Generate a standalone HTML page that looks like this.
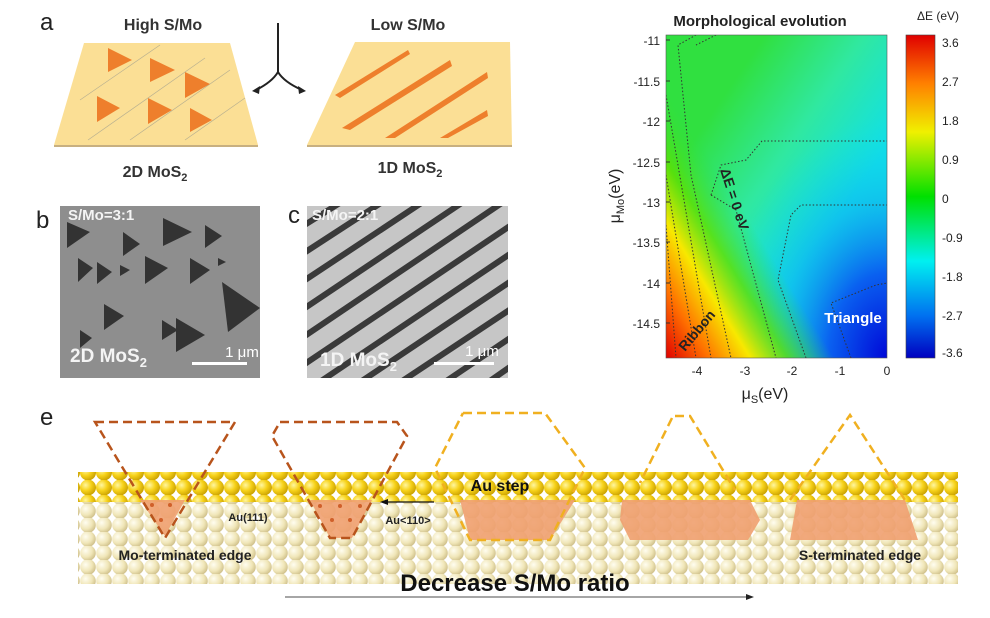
<!DOCTYPE html>
<html><head><meta charset="utf-8"><style>
body{margin:0;background:#fff;width:990px;height:618px;overflow:hidden;font-family:"Liberation Sans",sans-serif}
svg{position:absolute;left:0;top:0}
</style></head><body>
<svg width="990" height="618" viewBox="0 0 990 618" font-family="Liberation Sans, sans-serif">
<defs>
<radialGradient id="gs" cx="0.35" cy="0.35" r="0.7"><stop offset="0" stop-color="#fff6a0"/><stop offset="0.5" stop-color="#f7d21a"/><stop offset="1" stop-color="#c9a000"/></radialGradient>
<radialGradient id="ps" cx="0.35" cy="0.35" r="0.7"><stop offset="0" stop-color="#fffdf0"/><stop offset="0.6" stop-color="#f0e6b8"/><stop offset="1" stop-color="#cfc08a"/></radialGradient>
<pattern id="gp" width="16" height="15" patternUnits="userSpaceOnUse"><circle cx="8" cy="7.5" r="8" fill="url(#gs)"/></pattern>
<pattern id="pp" width="16" height="14" patternUnits="userSpaceOnUse"><circle cx="8" cy="7" r="7.8" fill="url(#ps)"/></pattern>
<linearGradient id="cool" x1="0.3" y1="0.15" x2="0.75" y2="0.6">
<stop offset="0" stop-color="#30e040"/><stop offset="0.5" stop-color="#30e8a0"/><stop offset="1" stop-color="#10e0e8"/></linearGradient>
<linearGradient id="warm" x1="0" y1="1" x2="0.42" y2="0.62">
<stop offset="0" stop-color="#e00000"/><stop offset="0.25" stop-color="#ff7000"/><stop offset="0.5" stop-color="#f8e800"/><stop offset="0.72" stop-color="#60e000" stop-opacity="0.8"/><stop offset="1" stop-color="#30e040" stop-opacity="0"/></linearGradient>
<radialGradient id="bl" cx="1" cy="1" r="0.75"><stop offset="0" stop-color="#0008d8"/><stop offset="0.35" stop-color="#0a60f0"/><stop offset="0.65" stop-color="#10b0f0" stop-opacity="0.6"/><stop offset="1" stop-color="#10e0e8" stop-opacity="0"/></radialGradient>
<linearGradient id="cb" x1="0" y1="0" x2="0" y2="1">
<stop offset="0" stop-color="#e00000"/><stop offset="0.15" stop-color="#ff8000"/><stop offset="0.3" stop-color="#f0f000"/><stop offset="0.5" stop-color="#00e000"/><stop offset="0.7" stop-color="#00f0f0"/><stop offset="0.87" stop-color="#0070f0"/><stop offset="1" stop-color="#0000c0"/></linearGradient>
</defs>

<!-- panel a -->
<text x="40" y="30" font-size="24" fill="#222">a</text>
<text x="163" y="30" font-size="16" font-weight="bold" text-anchor="middle" fill="#333">High S/Mo</text>
<text x="408" y="30" font-size="16" font-weight="bold" text-anchor="middle" fill="#333">Low S/Mo</text>
<polygon points="84,43 230,43 258,145 54,145" fill="#fbdf95"/>
<line x1="54" y1="146" x2="258" y2="146" stroke="#c8b080" stroke-width="2"/>
<g stroke="#b8b090" stroke-width="0.7"><line x1="80" y1="100" x2="160" y2="45"/><line x1="88" y1="140" x2="205" y2="58"/><line x1="130" y1="140" x2="230" y2="70"/><line x1="185" y1="140" x2="245" y2="98"/></g>
<g fill="#ee7f2c"><polygon points="108,48 132,60 108,72"/><polygon points="150,58 175,70 150,82"/><polygon points="185,72 210,84 185,98"/><polygon points="97,96 120,108 97,122"/><polygon points="148,98 172,110 148,124"/><polygon points="190,108 212,120 190,132"/></g>
<polygon points="355,42 510,42 512,145 307,145" fill="#fbdf95"/>
<line x1="307" y1="146" x2="512" y2="146" stroke="#c8b080" stroke-width="2"/>
<g fill="#ee7f2c"><polygon points="335,95 408,50 410,54 340,98"/><polygon points="342,128 450,60 452,66 350,130"/><polygon points="385,138 487,72 488,78 395,138"/><polygon points="440,138 487,110 488,116 448,138"/></g>
<path d="M278,23 V72 M278,72 Q272,82 256,90 M278,72 Q284,82 302,90" stroke="#222" stroke-width="2" fill="none"/>
<polygon points="252,91 260,86 259,94" fill="#222"/><polygon points="306,91 298,86 299,94" fill="#222"/>
<text x="155" y="177" font-size="16" font-weight="bold" text-anchor="middle" fill="#333">2D MoS<tspan font-size="11" dy="4">2</tspan></text>
<text x="410" y="173" font-size="16" font-weight="bold" text-anchor="middle" fill="#333">1D MoS<tspan font-size="11" dy="4">2</tspan></text>

<!-- panel b -->
<text x="36" y="228" font-size="24" fill="#222">b</text>
<rect x="60" y="206" width="200" height="172" fill="#8e8e8e"/>
<g fill="#333">
<polygon points="163,218 192,232 163,246"/><polygon points="67,222 90,232 67,248"/><polygon points="123,232 140,244 123,256"/><polygon points="205,225 222,236 205,248"/>
<polygon points="78,258 93,268 78,282"/><polygon points="97,262 112,272 97,284"/><polygon points="145,256 168,268 145,284"/><polygon points="190,258 210,270 190,284"/>
<polygon points="222,282 260,308 228,332"/><polygon points="104,304 124,316 104,330"/><polygon points="176,318 205,335 176,352"/><polygon points="162,320 178,330 162,340"/>
<polygon points="80,330 92,338 80,348"/><polygon points="120,265 130,270 120,276"/><polygon points="218,258 226,262 218,266"/>
</g>
<text x="68" y="220" font-size="15" font-weight="bold" fill="#f4f4f4">S/Mo=3:1</text>
<text x="70" y="362" font-size="19" font-weight="bold" fill="#f4f4f4">2D MoS<tspan font-size="13" dy="5">2</tspan></text>
<text x="242" y="357" font-size="15" fill="#fff" text-anchor="middle">1 μm</text>
<rect x="192" y="362" width="55" height="3" fill="#fff"/>

<!-- panel c -->
<text x="288" y="223" font-size="24" fill="#222">c</text>
<svg x="307" y="206" width="201" height="172" viewBox="0 0 201 172">
<rect width="201" height="172" fill="#c6c6c6"/>
<g stroke="#3a3a3a" stroke-width="6">
<line x1="-20" y1="30" x2="60" y2="-20"/><line x1="-20" y1="58" x2="100" y2="-20"/><line x1="-20" y1="86" x2="140" y2="-20"/><line x1="-20" y1="114" x2="180" y2="-20"/><line x1="-20" y1="142" x2="220" y2="-20"/><line x1="-20" y1="170" x2="240" y2="-5"/><line x1="-20" y1="198" x2="240" y2="23"/><line x1="10" y1="205" x2="240" y2="51"/><line x1="50" y1="205" x2="240" y2="79"/><line x1="95" y1="205" x2="240" y2="107"/><line x1="140" y1="205" x2="240" y2="135"/><line x1="185" y1="205" x2="240" y2="163"/>
</g></svg>
<text x="312" y="220" font-size="15" font-weight="bold" fill="#f4f4f4">S/Mo=2:1</text>
<text x="320" y="366" font-size="19" font-weight="bold" fill="#f4f4f4">1D MoS<tspan font-size="13" dy="5">2</tspan></text>
<text x="482" y="356" font-size="15" fill="#fff" text-anchor="middle">1 μm</text>
<rect x="434" y="362" width="60" height="3" fill="#fff"/>

<!-- heatmap -->
<text x="760" y="26" font-size="15" font-weight="bold" text-anchor="middle" fill="#222">Morphological  evolution</text>
<text x="938" y="20" font-size="12" text-anchor="middle" fill="#222">ΔE (eV)</text>
<svg x="666" y="35" width="221" height="323" viewBox="0 0 221 323" preserveAspectRatio="none">
<rect width="221" height="323" fill="url(#cool)"/>
<rect width="221" height="323" fill="url(#bl)"/>
<rect width="221" height="323" fill="url(#warm)"/>
<g stroke="#333" stroke-width="1" stroke-dasharray="1.5,2" fill="none">
<path d="M0,60 L45,323"/><path d="M0,140 L30,323"/><path d="M0,190 L10,323"/>
<path d="M30,0 L12,10 L25,140 L65,323"/><path d="M50,0 L30,10"/>
<path d="M45,160 L55,130 L80,125 L96,106 L221,106"/><path d="M45,160 L70,175 L110,323"/>
<path d="M140,323 L112,245 L125,180 L135,170 L221,170"/><path d="M185,323 L165,268 L210,250 L221,248"/>
</g>
</svg>
<rect x="666" y="35" width="221" height="323" fill="none" stroke="#555" stroke-width="0.6"/>
<text x="720" y="170" font-size="14" font-weight="bold" fill="#222" transform="rotate(72 720 170)">ΔE = 0 eV</text>
<text x="685" y="352" font-size="14" font-weight="bold" fill="#222" transform="rotate(-50 685 352)">Ribbon</text>
<text x="853" y="323" font-size="15" font-weight="bold" fill="#fff" text-anchor="middle">Triangle</text>
<g font-size="12" fill="#222" text-anchor="end">
<text x="660" y="45">-11</text><text x="660" y="86">-11.5</text><text x="660" y="126">-12</text><text x="660" y="167">-12.5</text><text x="660" y="207">-13</text><text x="660" y="247">-13.5</text><text x="660" y="288">-14</text><text x="660" y="328">-14.5</text>
</g>
<g stroke="#333"><line x1="666" y1="40" x2="670" y2="40"/><line x1="666" y1="81" x2="670" y2="81"/><line x1="666" y1="121" x2="670" y2="121"/><line x1="666" y1="162" x2="670" y2="162"/><line x1="666" y1="202" x2="670" y2="202"/><line x1="666" y1="242" x2="670" y2="242"/><line x1="666" y1="283" x2="670" y2="283"/><line x1="666" y1="323" x2="670" y2="323"/></g>
<g font-size="12" fill="#222" text-anchor="middle"><text x="697" y="375">-4</text><text x="745" y="375">-3</text><text x="792" y="375">-2</text><text x="840" y="375">-1</text><text x="887" y="375">0</text></g>
<text x="765" y="399" font-size="16" text-anchor="middle" fill="#222">μ<tspan font-size="11" dy="4">S</tspan><tspan dy="-4">(eV)</tspan></text>
<text x="620" y="196" font-size="16" text-anchor="middle" fill="#222" transform="rotate(-90 620 196)">μ<tspan font-size="11" dy="4">Mo</tspan><tspan dy="-4">(eV)</tspan></text>
<rect x="906" y="35" width="29" height="323" fill="url(#cb)" stroke="#444" stroke-width="0.6"/>
<g font-size="12" fill="#222"><text x="942" y="47">3.6</text><text x="942" y="86">2.7</text><text x="942" y="125">1.8</text><text x="942" y="164">0.9</text><text x="942" y="203">0</text><text x="942" y="242">-0.9</text><text x="942" y="281">-1.8</text><text x="942" y="320">-2.7</text><text x="942" y="357">-3.6</text></g>

<!-- panel e -->
<text x="40" y="425" font-size="24" fill="#222">e</text>
<rect x="78" y="500" width="880" height="84" fill="url(#pp)"/>
<rect x="78" y="472" width="880" height="30" fill="url(#gp)"/>
<g fill="#f0a070" opacity="0.9">
<polygon points="140,500 185,500 165,536"/><polygon points="310,500 372,500 352,538 330,538"/>
<polygon points="460,500 575,500 550,540 470,540"/><polygon points="622,500 750,500 760,520 748,540 630,540 620,520"/><polygon points="797,500 905,500 918,540 790,540"/>
</g>
<g fill="#d0602a"><circle cx="152" cy="505" r="2"/><circle cx="170" cy="505" r="2"/><circle cx="161" cy="520" r="2"/><circle cx="320" cy="506" r="2"/><circle cx="340" cy="506" r="2"/><circle cx="360" cy="506" r="2"/><circle cx="332" cy="520" r="2"/><circle cx="350" cy="520" r="2"/></g>
<g fill="none" stroke-width="2.5" stroke-dasharray="9,5">
<polygon points="95,422 235,422 165,538" stroke="#b8541c"/>
<polyline points="280,422 397,422 407,436 352,538 330,538 272,436 280,422" stroke="#b8541c"/>
<polyline points="463,413 545,413 585,468 550,540 470,540 435,468 463,413" stroke="#f0b020"/>
<polyline points="675,416 690,416 735,490" stroke="#f0b020"/><polyline points="672,418 640,483" stroke="#f0b020"/>
<polyline points="790,500 850,415 905,500" stroke="#f0b020"/>
</g>
<text x="500" y="491" font-size="16" font-weight="bold" text-anchor="middle" fill="#111">Au step</text>
<text x="248" y="521" font-size="11" font-weight="bold" text-anchor="middle" fill="#222">Au(111)</text>
<text x="408" y="524" font-size="11" font-weight="bold" text-anchor="middle" fill="#222">Au&lt;110&gt;</text>
<line x1="434" y1="502" x2="385" y2="502" stroke="#111" stroke-width="1.2"/><polygon points="380,502 388,499 388,505" fill="#111"/>
<text x="185" y="560" font-size="14" font-weight="bold" text-anchor="middle" fill="#222">Mo-terminated edge</text>
<text x="860" y="560" font-size="14" font-weight="bold" text-anchor="middle" fill="#222">S-terminated edge</text>
<text x="515" y="591" font-size="24" font-weight="bold" text-anchor="middle" fill="#111">Decrease S/Mo ratio</text>
<line x1="285" y1="597" x2="748" y2="597" stroke="#888" stroke-width="1.5"/><polygon points="754,597 746,594 746,600" fill="#222"/>
</svg>
</body></html>
